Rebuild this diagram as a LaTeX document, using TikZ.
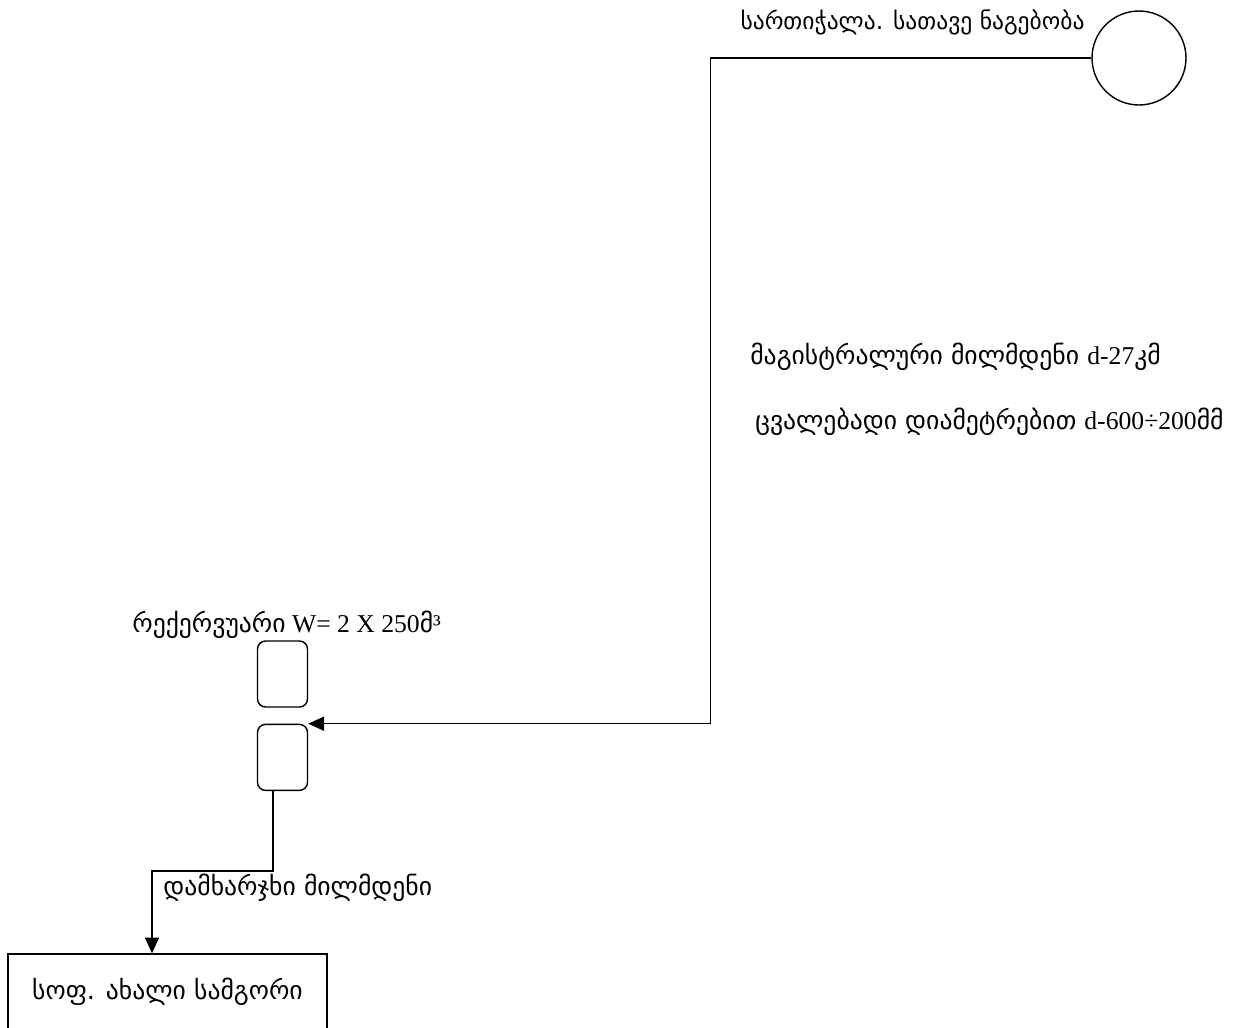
\documentclass[tikz,border=0pt]{standalone}
\usepackage{fontspec}
\setmainfont{Liberation Serif}
\newfontfamily\geo{DejaVu Sans}
\usetikzlibrary{positioning,arrows.meta}

\begin{document}
\begin{tikzpicture}[x=0.02cm,y=-0.02cm,font=\fontsize{14.6}{17}\selectfont]
        \tikzset{tank/.style={draw,thick,rounded corners=0.16cm,minimum width=1cm,minimum height=1.32cm}}
        \tikzset{source/.style={draw,thick,circle,minimum size=1.88cm,inner sep=0pt}}
        \tikzset{village/.style={draw,thick,minimum width=6.38cm,minimum height=1.6cm}}
        \tikzset{pipe/.style={draw,thick,-{Triangle[length=9pt,width=8pt]}}}
        \tikzset{lbl/.style={inner sep=0pt}}

        \useasboundingbox (0,0) rectangle (1245,1028);

        \node[source] (head) at (1139,58) {};
        \node[lbl,font=\fontsize{13.4}{16}\selectfont] (head-lbl) at (912.5,22) {\geo სართიჭალა. სათავე ნაგებობა};

        \node[lbl,anchor=west] (main-lbl) at (750,357) {\geo მაგისტრალური მილმდენი {\rmfamily d-27}კმ};
        \node[lbl,anchor=west] (diam-lbl) at (755,422) {\geo ცვალებადი დიამეტრებით {\rmfamily d-600÷200}მმ};

        \node[tank] (upbox) at (282.5,674) {};
        \node[tank,below=0.32cm of upbox] (lowbox) {};
        \node[lbl,anchor=west] (tank-lbl) at (132,625) {{\geo რექერვუარი} W= 2 X 250{\geo მ}³};

        \node[village] (village) at (167.5,994) {\raisebox{0.2cm}{\geo სოფ. ახალი სამგორი}};
        \node[lbl,anchor=west] (dist-lbl) at (163,888) {\geo დამხარჯხი მილმდენი};

        \path (lowbox.north east) ++(402,0) coordinate (bend);
        \coordinate (turn) at (152,871);

        \draw[pipe] (head.west) -| (bend) -- (lowbox.north east);
        \draw[pipe] ([xshift=-0.19cm]lowbox.south) |- (turn) -- (turn |- village.north);
    \end{tikzpicture}
\end{document}
